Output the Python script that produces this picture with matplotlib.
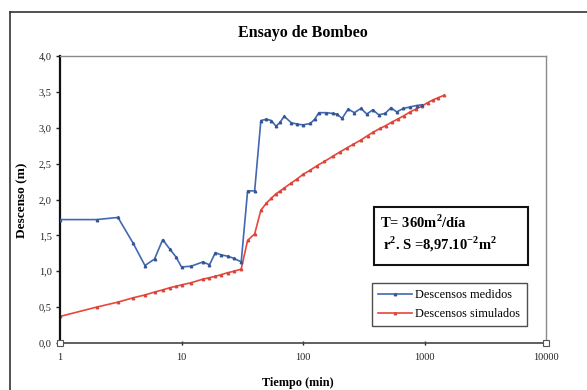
import matplotlib
matplotlib.use("Agg")
import matplotlib.pyplot as plt
from matplotlib.ticker import FixedLocator, FuncFormatter, NullLocator
from matplotlib.lines import Line2D
from matplotlib.patches import Rectangle

plt.rcParams['font.family'] = ['Liberation Serif', 'DejaVu Serif']
plt.rcParams['mathtext.fontset'] = 'custom'
plt.rcParams['mathtext.rm'] = 'Liberation Serif'
plt.rcParams['mathtext.bf'] = 'Liberation Serif:bold'

# Measured drawdown (min, m)
t_medidos = [1, 2, 3, 4, 5, 6, 7, 8, 9, 10, 12, 15, 17, 19, 21, 24, 27, 31,
             35, 40, 45, 50, 55, 60, 65, 70, 80, 90, 100, 115, 125, 135, 155,
             175, 190, 210, 235, 265, 300, 335, 375, 420, 475, 530, 590, 670,
             760, 860, 960]
d_medidos = [1.72, 1.72, 1.75, 1.39, 1.08, 1.17, 1.44, 1.31, 1.20, 1.06, 1.07,
             1.13, 1.09, 1.26, 1.23, 1.21, 1.18, 1.13, 2.12, 2.12, 3.10, 3.12,
             3.10, 3.02, 3.08, 3.16, 3.07, 3.05, 3.04, 3.06, 3.12, 3.21, 3.21,
             3.20, 3.19, 3.13, 3.26, 3.21, 3.27, 3.19, 3.25, 3.18, 3.20, 3.28,
             3.22, 3.27, 3.29, 3.31, 3.32]

# Simulated drawdown (min, m)
t_simulados = [1, 2, 3, 4, 5, 6, 7, 8, 9, 10, 12, 15, 17, 19, 21, 24, 27, 31,
               35, 40, 45, 50, 55, 60, 65, 70, 80, 90, 100, 115, 130, 150, 175,
               200, 230, 260, 300, 340, 380, 430, 480, 540, 600, 680, 760, 850,
               950, 1060, 1180, 1300, 1440]
d_simulados = [0.37, 0.50, 0.57, 0.63, 0.67, 0.71, 0.74, 0.77, 0.79, 0.81, 0.84,
               0.89, 0.91, 0.93, 0.95, 0.98, 1.00, 1.03, 1.43, 1.52, 1.85, 1.95,
               2.02, 2.08, 2.12, 2.16, 2.23, 2.29, 2.35, 2.41, 2.47, 2.53, 2.60,
               2.66, 2.72, 2.77, 2.83, 2.89, 2.94, 2.99, 3.03, 3.08, 3.12, 3.17,
               3.22, 3.26, 3.30, 3.35, 3.39, 3.42, 3.45]

x_ticks = [1, 10, 100, 1000, 10000]
x_labels = ["1", "10", "100", "1000", "10000"]
y_ticks = [0.0, 0.5, 1.0, 1.5, 2.0, 2.5, 3.0, 3.5, 4.0]

W, H = 587, 390
fig = plt.figure(figsize=(W / 100, H / 100), dpi=100)
fig.patch.set_facecolor("white")

# chart-area frame (top and left edges visible)
fig.add_artist(Line2D([10 / W, 1.0], [1 - 12 / H, 1 - 12 / H], color="#333333", lw=1.2))
fig.add_artist(Line2D([10 / W, 10 / W], [0.0, 1 - 12 / H], color="#333333", lw=1.2))

L, R, T, B = 60, 546, 56, 343
ax = fig.add_axes([L / W, 1 - B / H, (R - L) / W, (B - T) / H])

blue = "#4068B4"
red = "#E8463A"
ax.plot(t_medidos, d_medidos, color=blue, lw=1.2, marker="^", ms=1.8,
        mfc="#35558F", mec="#35558F", label="Descensos medidos", zorder=3)
ax.plot(t_simulados, d_simulados, color=red, lw=1.2, marker="^", ms=1.8,
        mfc="#D5473C", mec="#D5473C", label="Descensos simulados", zorder=2)

ax.set_xscale("log")
ax.set_xlim(1, 10000)
ax.set_ylim(0, 4.0)
ax.xaxis.set_major_locator(FixedLocator(x_ticks))
ax.xaxis.set_minor_locator(NullLocator())
ax.set_xticklabels(x_labels)
ax.yaxis.set_major_locator(FixedLocator(y_ticks))
ax.yaxis.set_major_formatter(FuncFormatter(lambda v, p: f"{v:.1f}".replace(".", ",")))

ax.tick_params(axis="both", labelsize=7.5, colors="#222222", width=1.0)
ax.tick_params(axis="y", direction="out", length=3, pad=3)
ax.tick_params(axis="x", direction="inout", length=3, pad=6)

for s in ("top", "right"):
    ax.spines[s].set_color("#8a8a8a")
    ax.spines[s].set_linewidth(1.0)
ax.spines["left"].set_color("#111111")
ax.spines["left"].set_linewidth(1.6)
ax.spines["bottom"].set_color("#444444")
ax.spines["bottom"].set_linewidth(1.2)

# corner handles on the x axis
ax.plot([1, 10000], [0, 0], ls="none", marker="s", ms=4, mfc="white",
        mec="#555555", mew=0.8, clip_on=False, zorder=5)

fig.text(303 / W, 1 - 33 / H, "Ensayo de Bombeo", ha="center", va="center",
         fontsize=11.5, fontweight="bold")
fig.text(298 / W, 1 - 383 / H, "Tiempo (min)", ha="center", va="center",
         fontsize=8.8, fontweight="bold")
fig.text(22 / W, 1 - 200 / H, "Descenso (m)", ha="center", va="center",
         rotation=90, fontsize=9.5, fontweight="bold")

# parameter box
fig.add_artist(Rectangle((374 / W, 1 - 265 / H), (528 - 374) / W, (265 - 207) / H,
                         transform=fig.transFigure, fill=True, fc="white",
                         ec="#111111", lw=1.5, zorder=6))
fig.text(380 / W, 1 - 222 / H, r"T= 360m$^{\mathbf{2}}$/día", ha="left", va="center",
         fontsize=10.5, fontweight="bold", zorder=7)
fig.text(383 / W, 1 - 244 / H, r"r$^{\mathbf{2}}$. S =8,97.10$^{\mathbf{-2}}$m$^{\mathbf{2}}$",
         ha="left", va="center", fontsize=10.5, fontweight="bold", zorder=7)

leg = ax.legend(loc="upper left",
                bbox_to_anchor=((372 - L) / (R - L), (B - 283) / (B - T)),
                fontsize=8.8, frameon=True, fancybox=False, edgecolor="#222222",
                handlelength=2.8, handletextpad=0.25, borderpad=0.5,
                labelspacing=0.55, borderaxespad=0)
leg.get_frame().set_linewidth(1.0)

fig.savefig("out.png", dpi=100)
